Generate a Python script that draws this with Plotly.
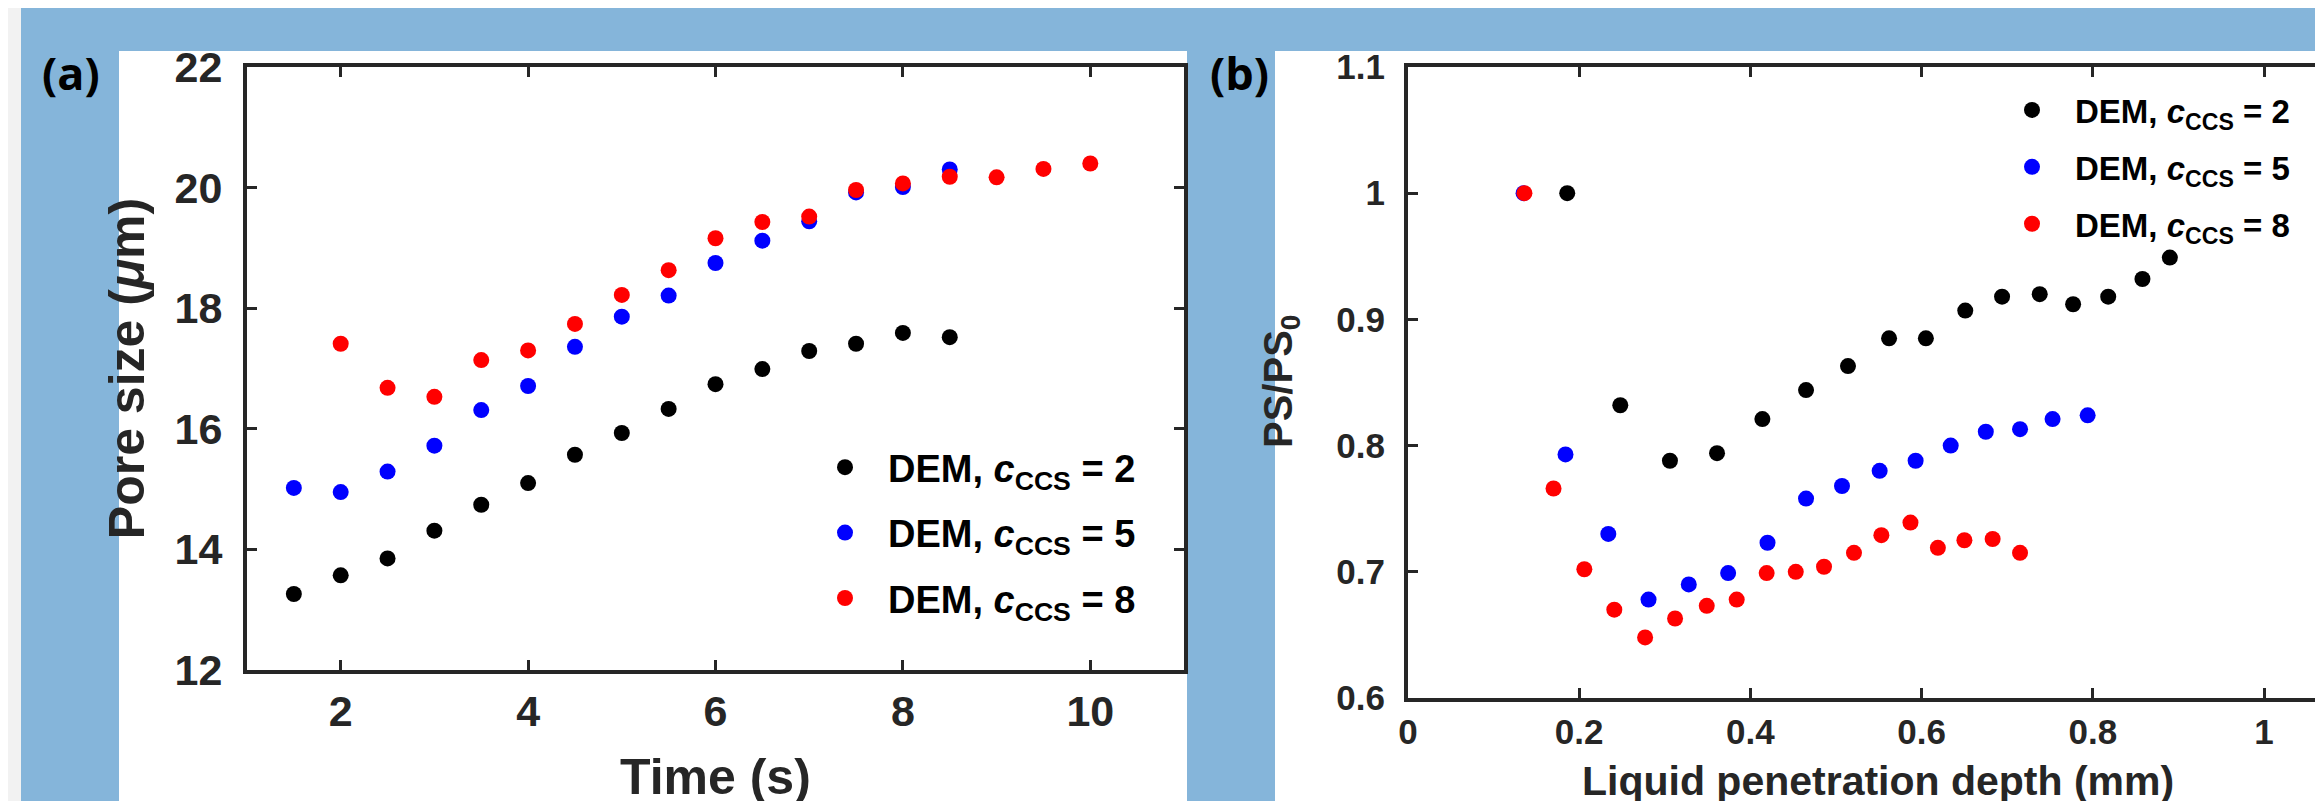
import plotly.graph_objects as go

W, H = 2323, 801

# ---------------- data: panel (a) ----------------
time_black = [1.5, 2, 2.5, 3, 3.5, 4, 4.5, 5, 5.5, 6, 6.5, 7, 7.5, 8, 8.5]
pore_black = [13.26, 13.57, 13.85, 14.31, 14.74, 15.10, 15.57, 15.93, 16.33,
              16.74, 16.99, 17.29, 17.41, 17.59, 17.52]
time_blue = [1.5, 2, 2.5, 3, 3.5, 4, 4.5, 5, 5.5, 6, 6.5, 7, 7.5, 8, 8.5]
pore_blue = [15.02, 14.95, 15.29, 15.72, 16.31, 16.71, 17.36, 17.86, 18.21,
             18.75, 19.12, 19.44, 19.92, 20.01, 20.30]
time_red = [2, 2.5, 3, 3.5, 4, 4.5, 5, 5.5, 6, 6.5, 7, 7.5, 8, 8.5, 9, 9.5, 10]
pore_red = [17.41, 16.68, 16.53, 17.14, 17.30, 17.74, 18.22, 18.63, 19.16,
            19.43, 19.52, 19.96, 20.07, 20.18, 20.17, 20.31, 20.40]

# ---------------- data: panel (b) ----------------
depth_black = [0.186, 0.248, 0.306, 0.361, 0.414, 0.465, 0.514, 0.562, 0.605,
               0.651, 0.694, 0.738, 0.777, 0.818, 0.858, 0.890]
ratio_black = [1.000, 0.832, 0.788, 0.794, 0.821, 0.844, 0.863, 0.885, 0.885,
               0.907, 0.918, 0.920, 0.912, 0.918, 0.932, 0.949]
depth_blue = [0.135, 0.184, 0.234, 0.281, 0.328, 0.374, 0.420, 0.465, 0.507,
              0.551, 0.593, 0.634, 0.675, 0.715, 0.753, 0.794]
ratio_blue = [1.000, 0.793, 0.730, 0.678, 0.690, 0.699, 0.723, 0.758, 0.768,
              0.780, 0.788, 0.800, 0.811, 0.813, 0.821, 0.824]
depth_red = [0.136, 0.170, 0.206, 0.241, 0.277, 0.312, 0.349, 0.384, 0.419,
             0.453, 0.486, 0.521, 0.553, 0.587, 0.619, 0.650, 0.683, 0.715]
ratio_red = [1.000, 0.766, 0.702, 0.670, 0.648, 0.663, 0.673, 0.678, 0.699,
             0.700, 0.704, 0.715, 0.729, 0.739, 0.719, 0.725, 0.726, 0.715]

series_labels = ["DEM, <i>c</i><sub>CCS</sub> = 2",
                 "DEM, <i>c</i><sub>CCS</sub> = 5",
                 "DEM, <i>c</i><sub>CCS</sub> = 8"]
series_colors = ["#000000", "#0000ff", "#ff0000"]

a_xticks = [2, 4, 6, 8, 10]
a_yticks = [12, 14, 16, 18, 20, 22]
b_xticks = [0, 0.2, 0.4, 0.6, 0.8, 1]
b_xticklabels = ["0", "0.2", "0.4", "0.6", "0.8", "1"]
b_yticks = [0.6, 0.7, 0.8, 0.9, 1.0, 1.1]
b_yticklabels = ["0.6", "0.7", "0.8", "0.9", "1", "1.1"]

FONT = "Liberation Sans, Arial, sans-serif"
AXC = "#262626"
BLUE_BG = "#85b5da"

fig = go.Figure()

a_sets = [(time_black, pore_black), (time_blue, pore_blue), (time_red, pore_red)]
for i, (xs, ys) in enumerate(a_sets):
    fig.add_trace(go.Scatter(
        x=xs, y=ys, mode="markers", name=series_labels[i],
        marker=dict(color=series_colors[i], size=16, line=dict(width=0)),
        xaxis="x", yaxis="y", legend="legend", legendgroup="a%d" % i))

b_sets = [(depth_black, ratio_black), (depth_blue, ratio_blue), (depth_red, ratio_red)]
for i, (xs, ys) in enumerate(b_sets):
    fig.add_trace(go.Scatter(
        x=xs, y=ys, mode="markers", name=series_labels[i],
        marker=dict(color=series_colors[i], size=16, line=dict(width=0)),
        xaxis="x2", yaxis="y2", legend="legend2", legendgroup="b%d" % i))


def px_x(p):
    return p / W


def px_y(p):
    return 1 - p / H


axis_common = dict(
    showline=True, linecolor=AXC, linewidth=4,
    ticks="inside", ticklen=10, tickwidth=3, tickcolor=AXC,
    showgrid=False, zeroline=False,
)

fig.update_layout(
    width=W, height=H,
    template="none",
    margin=dict(l=0, r=0, t=0, b=0),
    paper_bgcolor=BLUE_BG,
    plot_bgcolor="white",
    xaxis=dict(axis_common, domain=[px_x(239), px_x(1176)], range=[1, 11],
               tickvals=a_xticks, mirror="ticks", anchor="y",
               tickfont=dict(family=FONT, color=AXC, size=43, weight="bold"),
               ticklabelstandoff=0),
    yaxis=dict(axis_common, domain=[px_y(662), px_y(59)], range=[12, 22],
               tickvals=a_yticks, mirror="ticks", anchor="x",
               tickfont=dict(family=FONT, color=AXC, size=43, weight="bold"),
               ticklabelstandoff=12,
               title=dict(text="Pore size (<i>μ</i>m)", standoff=15,
                          font=dict(family=FONT, color=AXC, size=50, weight="bold"))),
    xaxis2=dict(axis_common, domain=[px_x(1400), 1.0], range=[0, 923 / 856],
                tickvals=b_xticks, ticktext=b_xticklabels, mirror="ticks", anchor="y2",
                tickfont=dict(family=FONT, color=AXC, size=35, weight="bold"),
                ticklabelstandoff=0),
    yaxis2=dict(axis_common, domain=[px_y(690), px_y(59)], range=[0.6, 1.1],
                tickvals=b_yticks, ticktext=b_yticklabels, mirror=False, anchor="x2",
                tickfont=dict(family=FONT, color=AXC, size=35, weight="bold"),
                ticklabelstandoff=12),
    legend=dict(x=px_x(794), y=px_y(428), xanchor="left", yanchor="top",
                bgcolor="rgba(0,0,0,0)", borderwidth=0, itemwidth=76,
                tracegroupgap=13,
                font=dict(family=FONT, color="#000000", size=38, weight="bold")),
    legend2=dict(x=px_x(1981), y=px_y(74), xanchor="left", yanchor="top",
                 bgcolor="rgba(0,0,0,0)", borderwidth=0, itemwidth=76,
                 tracegroupgap=11,
                 font=dict(family=FONT, color="#000000", size=33, weight="bold")),
    shapes=[
        dict(type="rect", xref="paper", yref="paper", x0=0, x1=px_x(13), y0=0, y1=1,
             fillcolor="#f2f2f2", line=dict(width=0), layer="below"),
        dict(type="rect", xref="paper", yref="paper", x0=px_x(111), x1=px_x(1179),
             y0=0, y1=px_y(43), fillcolor="white", line=dict(width=0), layer="below"),
        dict(type="rect", xref="paper", yref="paper", x0=px_x(1267), x1=1.0,
             y0=0, y1=px_y(43), fillcolor="white", line=dict(width=0), layer="below"),
    ],
    annotations=[
        dict(text="<b>(a)</b>", xref="paper", yref="paper", x=px_x(63), y=px_y(65),
             showarrow=False, xanchor="center", yanchor="middle",
             font=dict(family="Open Sans", size=45, color="#000000")),
        dict(text="<b>(b)</b>", xref="paper", yref="paper", x=px_x(1231), y=px_y(65),
             showarrow=False, xanchor="center", yanchor="middle",
             font=dict(family="Open Sans", size=45, color="#000000")),
        # axis titles
        dict(text="Time (s)", xref="paper", yref="paper", x=px_x(707), y=px_y(769),
             showarrow=False, xanchor="center", yanchor="middle",
             font=dict(family=FONT, size=50, color=AXC, weight="bold")),
        dict(text="Liquid penetration depth (mm)", xref="paper", yref="paper",
             x=px_x(1870), y=px_y(773), showarrow=False, xanchor="center",
             yanchor="middle",
             font=dict(family=FONT, size=41, color=AXC, weight="bold")),
        dict(text="PS/PS<sub>0</sub>", xref="paper", yref="paper",
             x=px_x(1273), y=px_y(374), showarrow=False, xanchor="center",
             yanchor="middle", textangle=-90,
             font=dict(family=FONT, size=40, color=AXC, weight="bold")),
    ],
)

fig.write_html("out.html")
